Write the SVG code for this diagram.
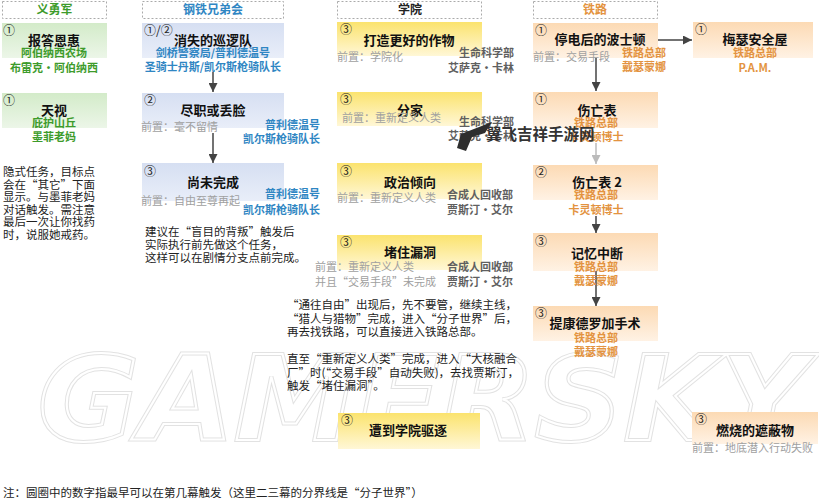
<svg xmlns="http://www.w3.org/2000/svg" width="819" height="500" viewBox="0 0 819 500">
<defs>
<style>
text{font-family:"Noto Sans CJK SC","Liberation Sans",sans-serif}
.hdr rect{fill:#fff;stroke:#aaa;stroke-width:1;stroke-dasharray:2 2}
.hdr text{font-size:12px;font-weight:700;text-anchor:middle}
.title{font-size:13px;font-weight:700;fill:#111;text-anchor:middle}
.num{font-size:12px;fill:#222}
.sub{font-size:11px;font-weight:700;text-anchor:middle}
.subr{font-size:11px;font-weight:700;text-anchor:end}
.subl{font-size:11px;font-weight:700}
.g{fill:#3d9b2b}.b{fill:#2f86c3}.o{fill:#e39340}.k{fill:#5f5f5f}
.pre{font-size:11px;fill:#a0a0a0}
.note{font-size:11.5px;fill:#222}
.c{stroke:#444;stroke-width:1.5;fill:none;marker-end:url(#ah)}
.cl{stroke:#bbb;stroke-width:1.5;fill:none;marker-end:url(#ahl)}
.gb{fill:url(#gGreen)}.bb{fill:url(#gBlue)}.yb{fill:url(#gYellow)}.ob{fill:url(#gOrange)}
.wm{font-family:"DejaVu Sans",sans-serif;font-size:118px;font-weight:700;font-style:italic;fill:none}
</style>
<linearGradient id="gGreen" x1="0" y1="0" x2="0" y2="1"><stop offset="0" stop-color="#d3ebc9"/><stop offset="1" stop-color="#ecf6e8"/></linearGradient>
<linearGradient id="gBlue" x1="0" y1="0" x2="0" y2="1"><stop offset="0" stop-color="#d6dff2"/><stop offset="1" stop-color="#e9eef9"/></linearGradient>
<linearGradient id="gYellow" x1="0" y1="0" x2="0" y2="1"><stop offset="0" stop-color="#fbe36e"/><stop offset="1" stop-color="#fff7d6"/></linearGradient>
<linearGradient id="gOrange" x1="0" y1="0" x2="0" y2="1"><stop offset="0" stop-color="#fcdab4"/><stop offset="1" stop-color="#fff2e4"/></linearGradient>
<marker id="ah" markerWidth="9" markerHeight="9" refX="9" refY="4.5" orient="auto" markerUnits="userSpaceOnUse"><path d="M0,0 L9,4.5 L0,9 Z" fill="#444"/></marker>
<marker id="ahl" markerWidth="9" markerHeight="9" refX="9" refY="4.5" orient="auto" markerUnits="userSpaceOnUse"><path d="M0,0 L9,4.5 L0,9 Z" fill="#bbb"/></marker>
</defs>
<rect width="819" height="500" fill="#fff"/>

<g id="watermark-gamersky">
<text x="38" y="440" class="wm" textLength="770" lengthAdjust="spacingAndGlyphs" stroke="#e2e2e2" stroke-width="4">GAMERSKY</text>
<text x="38" y="440" class="wm" textLength="770" lengthAdjust="spacingAndGlyphs" stroke="#fff" stroke-width="2">GAMERSKY</text>
</g>

<g id="headers" class="hdr">
<rect x="2.5" y="1.5" width="104" height="17"/><text x="54.5" y="14" class="g">义勇军</text>
<rect x="142.5" y="1.5" width="141" height="17"/><text x="213" y="14" class="b">钢铁兄弟会</text>
<rect x="337.5" y="1.5" width="144" height="17"/><text x="410" y="14" fill="#222">学院</text>
<rect x="533.5" y="1.5" width="124" height="17"/><text x="595" y="14" class="o">铁路</text>
</g>

<g id="connectors">
<line class="c" x1="213" y1="72" x2="213" y2="92"/>
<line class="c" x1="213" y1="133" x2="213" y2="163"/>
<line class="c" x1="658" y1="40" x2="692" y2="40"/>
<line class="c" x1="596" y1="58" x2="596" y2="91"/>
<line class="cl" x1="596" y1="143" x2="596" y2="164"/>
<line class="c" x1="596" y1="216" x2="596" y2="233"/>
<line class="c" x1="596" y1="262" x2="596" y2="306"/>
</g>

<g id="n-baoda">
<rect x="2" y="23" width="105" height="35" class="gb"/>
<text x="3" y="35" class="num">①</text>
<text x="54" y="45" class="title">报答恩惠</text>
<text x="54" y="57" class="sub g">阿伯纳西农场</text>
<text x="54" y="72" class="sub g">布雷克·阿伯纳西</text>
</g>
<g id="n-tianshi">
<rect x="2" y="93" width="105" height="35" class="gb"/>
<text x="3" y="105" class="num">①</text>
<text x="54" y="115" class="title">天视</text>
<text x="54" y="127" class="sub g">庇护山丘</text>
<text x="54" y="141" class="sub g">墨菲老妈</text>
</g>
<g id="note-left" class="note">
<text x="3" y="176">隐式任务，目标点</text>
<text x="3" y="188.5">会在“其它”下面</text>
<text x="3" y="201">显示。与墨菲老妈</text>
<text x="3" y="213.5">对话触发。需注意</text>
<text x="3" y="226">最后一次让你找药</text>
<text x="3" y="238.5">时，说服她戒药。</text>
</g>

<g id="n-xunluo">
<rect x="142" y="23" width="142" height="35" class="bb"/>
<text x="144" y="35" class="num">①/②</text>
<text x="213" y="45" class="title">消失的巡逻队</text>
<text x="213" y="57" class="sub b">剑桥警察局/普利德温号</text>
<text x="213" y="71" class="sub b">圣骑士丹斯/凯尔斯枪骑队长</text>
</g>
<g id="n-jinzhi">
<rect x="142" y="93" width="142" height="35" class="bb"/>
<text x="144" y="105" class="num">②</text>
<text x="213" y="115" class="title">尽职或丢脸</text>
<text x="141" y="131" class="pre">前置：毫不留情</text>
<text x="320" y="129" class="subr b">普利德温号</text>
<text x="320" y="143" class="subr b">凯尔斯枪骑队长</text>
</g>
<g id="n-shangwei">
<rect x="142" y="163" width="142" height="38" class="bb"/>
<text x="144" y="176" class="num">③</text>
<text x="213" y="187" class="title">尚未完成</text>
<text x="141" y="205" class="pre">前置：自由至尊再起</text>
<text x="320" y="198" class="subr b">普利德温号</text>
<text x="320" y="214" class="subr b">凯尔斯枪骑队长</text>
</g>
<g id="note-bos" class="note">
<text x="145" y="236">建议在“盲目的背叛”触发后</text>
<text x="145" y="249">实际执行前先做这个任务，</text>
<text x="145" y="262">这样可以在剧情分支点前完成。</text>
</g>

<g id="n-zuowu">
<rect x="337" y="22" width="145" height="34" class="yb"/>
<text x="340" y="34" class="num">③</text>
<text x="409" y="45" class="title">打造更好的作物</text>
<text x="337" y="61" class="pre">前置：学院化</text>
<text x="514" y="57" class="subr k">生命科学部</text>
<text x="514" y="72" class="subr k">艾萨克·卡林</text>
</g>
<g id="n-fenjia">
<rect x="337" y="92" width="145" height="34" class="yb"/>
<text x="340" y="104" class="num">③</text>
<text x="410" y="115" class="title">分家</text>
<text x="342" y="122" class="pre">前置：重新定义人类</text>
<text x="514" y="126" class="subr k">生命科学部</text>
<text x="514" y="140" class="subr k">艾萨克·卡林</text>
</g>
<g id="n-zhengzhi">
<rect x="337" y="163" width="145" height="36" class="yb"/>
<text x="340" y="176" class="num">③</text>
<text x="410" y="187" class="title">政治倾向</text>
<text x="337" y="202" class="pre">前置：重新定义人类</text>
<text x="513" y="199" class="subr k">合成人回收部</text>
<text x="513" y="214" class="subr k">贾斯汀·艾尔</text>
</g>
<g id="n-duzhu">
<rect x="337" y="235" width="145" height="35" class="yb"/>
<text x="340" y="247" class="num">③</text>
<text x="410" y="257" class="title">堵住漏洞</text>
<text x="315" y="271" class="pre">前置：重新定义人类</text>
<text x="315" y="286" class="pre">并且“交易手段”未完成</text>
<text x="513" y="271" class="subr k">合成人回收部</text>
<text x="513" y="286" class="subr k">贾斯汀·艾尔</text>
</g>
<g id="note-inst" class="note">
<text x="287" y="309">“通往自由”出现后，先不要管，继续主线，</text>
<text x="287" y="322.5">“猎人与猎物”完成，进入“分子世界”后，</text>
<text x="287" y="336">再去找铁路，可以直接进入铁路总部。</text>
<text x="287" y="363">直至“重新定义人类”完成，进入“大核融合</text>
<text x="287" y="376.5">厂”时(“交易手段”自动失败)，去找贾斯汀，</text>
<text x="287" y="390">触发“堵住漏洞”。</text>
</g>
<g id="n-quzhu">
<rect x="338" y="413" width="142" height="36" class="yb"/>
<text x="341" y="425" class="num">③</text>
<text x="408" y="435" class="title">遭到学院驱逐</text>
</g>

<g id="n-tingdian">
<rect x="533" y="23" width="125" height="35" class="ob"/>
<text x="535" y="35" class="num">①</text>
<text x="600" y="44" class="title">停电后的波士顿</text>
<text x="533" y="61" class="pre">前置：交易手段</text>
<text x="622" y="57" class="subl o">铁路总部</text>
<text x="622" y="71" class="subl o">戴瑟蒙娜</text>
</g>
<g id="n-meise">
<rect x="693" y="22" width="120" height="36" class="ob"/>
<text x="695" y="34" class="num">①</text>
<text x="755" y="44" class="title">梅瑟安全屋</text>
<text x="755" y="57" class="sub o">铁路总部</text>
<text x="755" y="72" class="sub o">P.A.M.</text>
</g>
<g id="n-shangwang">
<rect x="533" y="92" width="125" height="36" class="ob"/>
<text x="535" y="104" class="num">①</text>
<text x="597" y="115" class="title">伤亡表</text>
<text x="596" y="127" class="sub o">铁路总部</text>
<text x="596" y="141" class="sub o">卡灵顿博士</text>
</g>
<g id="n-shangwang2">
<rect x="533" y="165" width="125" height="35" class="ob"/>
<text x="535" y="177" class="num">②</text>
<text x="597" y="187" class="title">伤亡表 2</text>
<text x="596" y="199" class="sub o">铁路总部</text>
<text x="596" y="214" class="sub o">卡灵顿博士</text>
</g>
<g id="n-jiyi">
<rect x="533" y="233" width="125" height="38" class="ob"/>
<text x="535" y="246" class="num">③</text>
<text x="597" y="258" class="title">记忆中断</text>
<text x="596" y="271" class="sub o">铁路总部</text>
<text x="596" y="285" class="sub o">戴瑟蒙娜</text>
</g>
<g id="n-tikang">
<rect x="533" y="306" width="125" height="35" class="ob"/>
<text x="535" y="318" class="num">③</text>
<text x="595" y="328" class="title">提康德罗加手术</text>
<text x="596" y="342" class="sub o">铁路总部</text>
<text x="596" y="356" class="sub o">戴瑟蒙娜</text>
</g>
<g id="n-ranshao">
<rect x="692" y="412" width="126" height="32" class="ob"/>
<text x="695" y="424" class="num">③</text>
<text x="755" y="435" class="title">燃烧的遮蔽物</text>
<text x="692" y="452" class="pre">前置：地底潜入行动失败</text>
</g>

<g id="footer">
<text x="3" y="497" class="note">注：圆圈中的数字指最早可以在第几幕触发（这里二三幕的分界线是“分子世界”）</text>
</g>

<g id="watermark-logo">
<path d="M461,134 L492,122 L485,133 L472,137 L466,151 L457,148 Z" fill="#2e2e2e"/>
<text x="486" y="140" font-size="15.5" font-weight="700" fill="#333">翼飞吉祥手游网</text>
</g>
</svg>
